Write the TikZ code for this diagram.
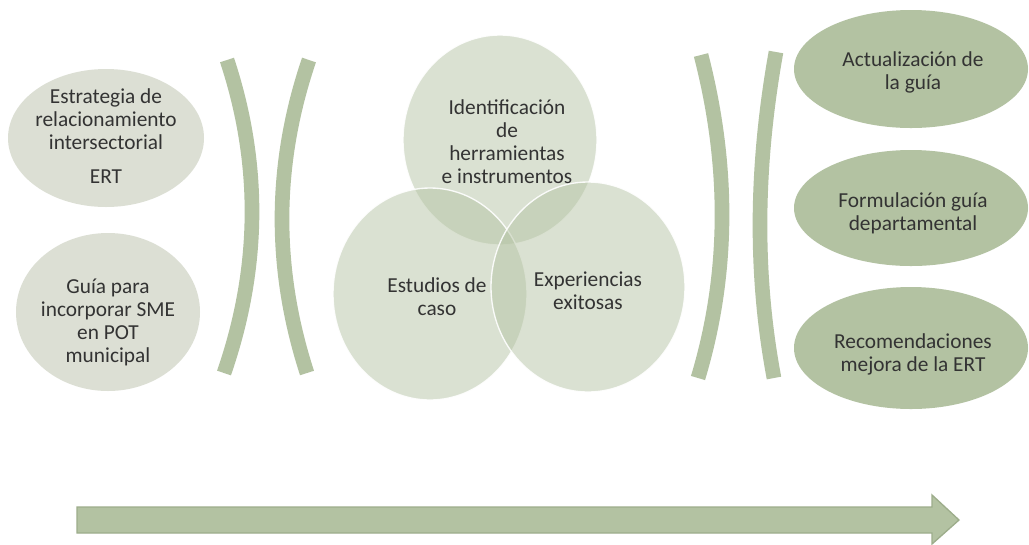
\documentclass[tikz,border=0pt]{standalone}
\usepackage{fontspec}
\setmainfont{Carlito}
\definecolor{lightfill}{HTML}{DCDFD4}
\definecolor{darkfill}{HTML}{B3C2A2}
\definecolor{arrowline}{HTML}{9DAD8B}
\definecolor{txt}{HTML}{333333}
\begin{document}
\begin{tikzpicture}[x=0.75pt,y=-0.75pt,
  lbl/.style={text=txt,align=center,font=\fontsize{16}{17.25}\selectfont,inner sep=0pt},
  lightell/.style={fill=lightfill,draw=none},
  darkell/.style={fill=darkfill,draw=none},
  venn/.style={fill=darkfill,fill opacity=0.48,draw=white,draw opacity=0.9,line width=1},
  bracket/.style={draw=darkfill,line width=11,line cap=butt}]
\useasboundingbox (0,0) rectangle (1029,544);
\fill[white] (0,0) rectangle (1029,544);
% left ellipses
\path[lightell] (106,138) ellipse [x radius=98, y radius=69];
\path[lightell] (108,312) ellipse [x radius=92, y radius=79];
\node[lbl] (l1) at (106,136) {Estrategia de\\relacionamiento\\intersectorial\\[8pt]ERT};
\node[lbl] (l2) at (108,322) {Guía para\\incorporar SME\\en POT\\municipal};
% left brackets
\draw[bracket] (227,60) .. controls (261.3,163.7) and (260.3,268) .. (224,373);
\draw[bracket] (309,60) .. controls (273.7,163.7) and (273,268) .. (307,373);
% Venn
\path[venn] (500,140) ellipse [x radius=97, y radius=105];
\path[venn] (430,294) ellipse [x radius=97, y radius=106];
\path[venn] (588,287) ellipse [x radius=97, y radius=105];
\node[lbl] (v1) at (507,142) {Identificación\\de\\herramientas\\e instrumentos};
\node[lbl] (v2) at (437,297) {Estudios de\\caso};
\node[lbl] (v3) at (588,291) {Experiencias\\exitosas};
% right brackets
\draw[bracket] (701,55) .. controls (730,167.3) and (729,275) .. (698,378);
\draw[bracket] (776,52) .. controls (755.3,167.3) and (754.7,276) .. (774,378);
% right ellipses
\path[darkell] (911,69) ellipse [x radius=117, y radius=59];
\path[darkell] (911,208) ellipse [x radius=117, y radius=58];
\path[darkell] (911,348) ellipse [x radius=117, y radius=61];
\node[lbl] (r1) at (913,72) {Actualización de\\la guía};
\node[lbl] (r2) at (913,213) {Formulación guía\\departamental};
\node[lbl] (r3) at (913,354) {Recomendaciones\\mejora de la ERT};
% arrow
\filldraw[fill=darkfill,draw=arrowline,line width=1]
  (77,507) -- (932,507) -- (932,495) -- (959,520) -- (932,544) -- (932,533) -- (77,533) -- cycle;
\end{tikzpicture}
\end{document}
